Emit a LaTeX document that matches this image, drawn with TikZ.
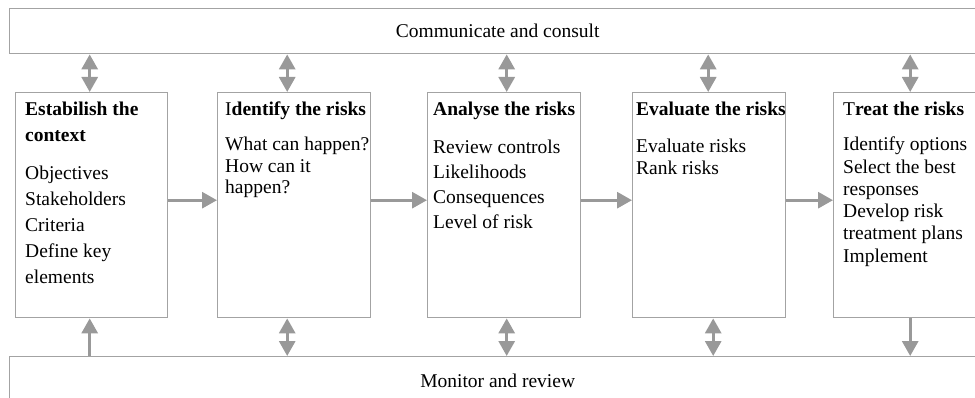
\documentclass[tikz,border=0pt]{standalone}
\usepackage{fontspec}
\setmainfont{Liberation Serif}
\usetikzlibrary{arrows.meta,positioning}

\definecolor{linegray}{HTML}{A3A3A3}
\definecolor{arrowgray}{HTML}{999999}

\tikzset{
  band/.style={draw=linegray, line width=1.4pt, anchor=north west, inner sep=0pt,
    minimum width=976pt, font=\fontsize{19.5}{23}\selectfont},
  stage/.style={draw=linegray, line width=1.4pt, anchor=north west, inner sep=0pt,
    minimum width=153pt, minimum height=225pt},
  stagetext/.style={anchor=north west, align=left, inner sep=0pt},
  flow/.style={-{Triangle[width=16pt,length=15pt]}, line width=3pt, draw=arrowgray, fill=arrowgray},
  twoway/.style={{Triangle[width=16pt,length=15pt]}-{Triangle[width=16pt,length=15pt]},
    line width=3pt, draw=arrowgray, fill=arrowgray}
}

\begin{document}
\begin{tikzpicture}[x=1pt,y=-1pt]
\path[use as bounding box] (0,0) rectangle (975,398);
\clip (0,0) rectangle (975,398);
% Bands
\node[band, minimum height=45pt] (comm) at (9,8) {Communicate and consult};
\node[band, minimum height=48pt] (mon) at (9,356) {Monitor and review};
% Stages
\node[stage, minimum width=152pt] (ctx) at (15,92) {};
\node[stage] (idf) at (217,92) {};
\node[stage] (ana) at (427,92) {};
\node[stage] (eva) at (632,92) {};
\node[stage] (trt) at (833,92) {};
% Stage texts
\node[stagetext, font=\fontsize{19.5}{26}\selectfont] (ctx-txt) at ([xshift=10pt,yshift=-10pt]ctx.north west)
  {\textbf{Estabilish the}\\\textbf{context}\\[12pt]Objectives\\Stakeholders\\Criteria\\Define key\\elements};
\node[stagetext, font=\fontsize{19.5}{21.5}\selectfont] (idf-txt) at ([xshift=8pt,yshift=-10pt]idf.north west)
  {I\textbf{dentify the risks}\\[13.5pt]What can happen?\\How can it\\happen?};
\node[stagetext, font=\fontsize{19.5}{25}\selectfont] (ana-txt) at ([xshift=6pt,yshift=-10pt]ana.north west)
  {\textbf{Analyse the risks}\\[13pt]Review controls\\Likelihoods\\Consequences\\Level of risk};
\node[stagetext, font=\fontsize{19.5}{21.5}\selectfont] (eva-txt) at ([xshift=4pt,yshift=-10pt]eva.north west)
  {\textbf{Evaluate the risks}\\[15.5pt]Evaluate risks\\Rank risks};
\node[stagetext, font=\fontsize{19.5}{22.3}\selectfont] (trt-txt) at ([xshift=10pt,yshift=-10pt]trt.north west)
  {T\textbf{reat the risks}\\[12.7pt]Identify options\\Select the best\\responses\\Develop risk\\treatment plans\\Implement};
% Flow between stages
\draw[flow] ([yshift=5pt]ctx.east) -- ([yshift=5pt]idf.west);
\draw[flow] ([yshift=5pt]idf.east) -- ([yshift=5pt]ana.west);
\draw[flow] ([yshift=5pt]ana.east) -- ([yshift=5pt]eva.west);
\draw[flow] ([yshift=5pt]eva.east) -- ([yshift=5pt]trt.west);
% Communicate and consult links
\foreach \b/\s in {ctx/-2,idf/-7,ana/2.5,eva/-1,trt/0} {
  \draw[twoway] ([xshift=\s pt]comm.south -| \b.north) -- ([xshift=\s pt]\b.north);
}
% Monitor and review links
\draw[flow] ([xshift=-2pt]mon.north -| ctx.south) -- ([xshift=-2pt]ctx.south);
\foreach \b/\s in {idf/-7,ana/2.5,eva/4} {
  \draw[twoway] ([xshift=\s pt]\b.south) -- ([xshift=\s pt]mon.north -| \b.south);
}
\draw[flow] (trt.south) -- (mon.north -| trt.south);
\end{tikzpicture}
\end{document}
